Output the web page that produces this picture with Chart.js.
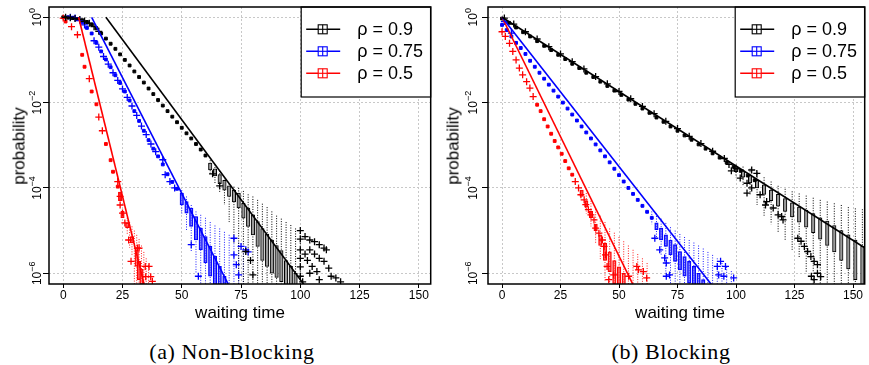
<!DOCTYPE html>
<html>
<head>
<meta charset="utf-8">
<script src="https://cdn.jsdelivr.net/npm/chart.js@4.4.1/dist/chart.umd.min.js"></script>
<style>
  body { margin: 0; background: #fff; }
  #wrap { position: relative; width: 869px; height: 365px; overflow: hidden; font-family: "Liberation Sans", Arial, sans-serif; }
  canvas { position: absolute; top: 0; }
  .lab { position: absolute; white-space: nowrap; line-height: 1; transform: translate(-50%, -50%); color: #000; }
  .ylab { transform: translate(-50%, -50%) rotate(-90deg); font-size: 17px; }
  .xlab { font-size: 17px; }
  .cap { font-family: "Liberation Serif", "Times New Roman", serif; font-size: 22px; letter-spacing: 0.6px; }
</style>
</head>
<body>
<div id="wrap">
  <canvas id="chartA" width="436" height="310" style="left:0"></canvas>
  <canvas id="chartB" width="434" height="310" style="left:436px"></canvas>
  <div class="lab ylab" style="left:19px; top:146px">probability</div>
  <div class="lab ylab" style="left:453px; top:146px">probability</div>
  <div class="lab xlab" style="left:240px; top:312px">waiting time</div>
  <div class="lab xlab" style="left:680px; top:312px">waiting time</div>
  <div class="lab cap" style="left:232px; top:352px">(a) Non-Blocking</div>
  <div class="lab cap" style="left:671px; top:352px">(b) Blocking</div>
</div>
<script>
// axes and legend
const xTicks = [0, 25, 50, 75, 100, 125, 150];
const yTicks = [1, 1e-2, 1e-4, 1e-6];
const yTickExp = ['0', '\u22122', '\u22124', '\u22126'];
const legendLabels = ['\u03c1 = 0.9', '\u03c1 = 0.75', '\u03c1 = 0.5'];
const seriesColors = ['#000000', '#0000ff', '#ff0000'];

// all values below are log10(probability)

// (a) Non-Blocking, rho = 0.9
const nbBlackLineX = [18, 102];
const nbBlackLineLog = [0, -6.3];
const nbBlackMedT = [0, 2, 4, 6, 8, 10, 12, 14, 16, 18, 20, 22, 24, 26, 28, 30, 32, 34, 36, 38, 40, 42, 44, 46, 48, 50, 52, 54, 56, 58, 60];
const nbBlackMedLog = [0, -0.01, -0.02, -0.04, -0.07, -0.11, -0.17, -0.26, -0.38, -0.5, -0.62, -0.74, -0.87, -1.0, -1.13, -1.27, -1.4, -1.53, -1.67, -1.8, -1.94, -2.07, -2.2, -2.33, -2.46, -2.59, -2.72, -2.84, -2.97, -3.1, -3.24];
const nbBlackBoxT = [62, 64, 66, 68, 70, 72, 74, 76, 78, 80, 82, 84, 86, 88, 90, 92, 94, 96, 98];
const nbBlackBoxHi = [-3.42, -3.55, -3.69, -3.82, -3.95, -4.05, -4.12, -4.36, -4.47, -4.63, -4.79, -4.95, -5.08, -5.22, -5.35, -5.47, -5.7, -5.84, -6.0];
const nbBlackBoxLo = [-3.58, -3.72, -3.9, -4.05, -4.2, -4.33, -4.47, -4.71, -4.9, -5.1, -5.37, -5.7, -5.84, -6.0, -6.1, -6.2, -6.5, -6.5, -6.5];
const nbBlackWhT = [62, 64, 66, 68, 70, 72, 74, 76, 78, 80, 82, 84, 86, 88, 90, 92, 94, 96, 98, 100];
const nbBlackWhHi = [-3.35, -3.45, -3.6, -3.75, -3.9, -3.97, -4.0, -4.07, -4.15, -4.2, -4.28, -4.37, -4.45, -4.55, -4.65, -4.72, -4.8, -4.87, -4.95, -5.0];
const nbBlackWhLo = [-3.7, -3.9, -4.1, -4.4, -4.8, -5.3, -6.5, -6.5, -6.5, -6.5, -6.5, -6.5, -6.5, -6.5, -6.5, -6.5, -6.5, -6.5, -6.5, -6.5];
const nbBlackOutX = [1, 3, 5, 7, 9, 11, 13, 15, 63, 66, 77, 79, 80, 100, 100, 100, 100, 100, 100, 102, 104, 106, 108, 110, 111, 104, 106, 108, 110, 112, 113, 115, 117, 102, 103, 105, 107, 108, 104, 101];
const nbBlackOutLog = [0, -0.01, -0.03, -0.05, -0.09, -0.14, -0.22, -0.33, -3.67, -3.95, -5.49, -5.7, -6.04, -5.0, -5.2, -5.45, -5.65, -5.85, -6.07, -5.14, -5.22, -5.26, -5.33, -5.41, -5.45, -5.45, -5.55, -5.65, -5.72, -5.88, -6.07, -6.11, -6.2, -5.55, -5.7, -5.84, -5.96, -6.15, -6.0, -6.2];

// (a) Non-Blocking, rho = 0.75
const nbBlueLineX = [12, 70];
const nbBlueLineLog = [0, -6.3];
const nbBlueMedT = [2, 4, 6, 8, 10, 12, 14, 16, 18, 20, 22, 24, 26, 28, 30, 32, 34, 36, 38, 40, 42, 44, 46, 48];
const nbBlueMedLog = [0, -0.01, -0.05, -0.12, -0.25, -0.38, -0.6, -0.8, -0.99, -1.17, -1.36, -1.54, -1.74, -1.95, -2.2, -2.43, -2.66, -2.88, -3.08, -3.26, -3.45, -3.68, -3.86, -4.02];
const nbBlueBoxT = [50, 52, 54, 56, 58, 60, 62, 64, 66, 68];
const nbBlueBoxHi = [-4.12, -4.32, -4.47, -4.67, -4.94, -5.14, -5.37, -5.6, -5.84, -6.07];
const nbBlueBoxLo = [-4.4, -4.59, -4.9, -5.22, -5.45, -5.76, -6.07, -6.27, -6.5, -6.5];
const nbBlueWhT = [50, 52, 54, 56, 58, 60, 62, 64, 66, 68, 70, 72, 74, 76];
const nbBlueWhHi = [-4.05, -4.2, -4.4, -4.55, -4.63, -4.7, -4.8, -4.88, -4.95, -5.03, -5.1, -5.18, -5.28, -5.36];
const nbBlueWhLo = [-4.6, -5.0, -5.5, -6.0, -6.5, -6.5, -6.5, -6.5, -6.5, -6.5, -6.5, -6.5, -6.5, -6.5];
const nbBlueOutX = [3, 5, 7, 9, 13, 15, 17, 19, 21, 23, 25, 27, 29, 31, 33, 35, 37, 39, 42, 43, 45, 47, 54, 57, 72, 72, 73, 74, 75, 77, 78];
const nbBlueOutLog = [0, -0.02, -0.07, -0.18, -0.55, -0.7, -0.92, -1.1, -1.3, -1.48, -1.68, -1.88, -2.08, -2.3, -2.55, -2.75, -2.97, -3.15, -3.34, -3.69, -3.85, -4.0, -5.33, -6.07, -5.18, -5.57, -5.8, -6.04, -5.37, -5.45, -5.5];

// (a) Non-Blocking, rho = 0.5
const nbRedLineX = [6.5, 34.5];
const nbRedLineLog = [0, -6.35];
const nbRedMedT = [1, 8, 9, 12, 14, 18, 20, 21, 23];
const nbRedMedLog = [-0.1, -0.88, -1.16, -1.74, -2.04, -2.97, -3.35, -3.62, -3.97];
const nbRedBoxT = [24, 25, 27, 29, 31, 32, 33];
const nbRedBoxHi = [-4.1, -4.55, -4.82, -5.14, -5.45, -5.72, -5.9];
const nbRedBoxLo = [-4.3, -4.7, -4.93, -5.29, -5.84, -6.15, -6.5];
const nbRedWhT = [27, 28, 29, 30, 31, 32, 33, 34, 35, 36];
const nbRedWhHi = [-4.7, -4.8, -4.9, -5.0, -5.1, -5.2, -5.35, -5.5, -5.65, -5.8];
const nbRedWhLo = [-5.1, -5.4, -5.6, -6.3, -6.5, -6.5, -6.5, -6.5, -6.5, -6.5];
const nbRedOutX = [0, 3.5, 6, 11, 15, 16.5, 23, 24, 24, 25, 26, 27.6, 28.6, 31.3, 32, 34.6, 36.2, 34.8, 36.9, 37.6];
const nbRedOutLog = [-0.02, -0.22, -0.41, -1.44, -2.34, -2.66, -3.85, -4.2, -4.4, -4.59, -4.82, -5.22, -5.72, -5.41, -5.41, -5.84, -5.84, -6.08, -6.08, -6.19];

// (b) Blocking, rho = 0.9
const blBlackLineX = [0, 156];
const blBlackLineLog = [0, -5.44];
const blBlackMedT = [0, 3, 6, 9, 12, 15, 18, 21, 24, 27, 30, 33, 36, 39, 42, 45, 48, 51, 54, 57, 60, 63, 66, 69, 72, 75, 78, 81, 84, 87, 90, 93, 96, 99, 102, 105, 108];
const blBlackMedLog = [-0.03, -0.13, -0.24, -0.35, -0.45, -0.56, -0.67, -0.77, -0.88, -0.98, -1.09, -1.19, -1.3, -1.4, -1.51, -1.61, -1.72, -1.82, -1.93, -2.03, -2.14, -2.24, -2.35, -2.45, -2.56, -2.66, -2.77, -2.87, -2.98, -3.08, -3.19, -3.29, -3.4, -3.5, -3.6, -3.71, -3.82];
const blBlackBoxT = [100, 103, 106, 109, 112, 115, 118, 121, 124, 127, 130, 133, 136, 139, 142, 145, 148, 151, 154];
const blBlackBoxHi = [-3.5, -3.6, -3.7, -3.82, -3.93, -4.05, -4.15, -4.25, -4.35, -4.45, -4.52, -4.6, -4.7, -4.78, -4.88, -5.0, -5.1, -5.22, -5.37];
const blBlackBoxLo = [-3.62, -3.75, -3.88, -4.0, -4.15, -4.3, -4.43, -4.55, -4.68, -4.8, -4.92, -5.05, -5.2, -5.35, -5.5, -5.7, -5.9, -6.15, -6.5];
const blBlackWhT = [100, 103, 106, 109, 112, 115, 118, 121, 124, 127, 130, 133, 136, 139, 142, 145, 148, 151, 154];
const blBlackWhHi = [-3.45, -3.5, -3.55, -3.62, -3.75, -3.85, -3.95, -4.02, -4.08, -4.13, -4.18, -4.23, -4.28, -4.32, -4.36, -4.4, -4.45, -4.48, -4.5];
const blBlackWhLo = [-3.75, -3.95, -4.15, -4.4, -4.65, -4.85, -5.05, -5.25, -5.45, -5.65, -6.0, -6.5, -6.5, -6.5, -6.5, -6.5, -6.5, -6.5, -6.5];
const blBlackOutX = [1, 5, 10, 15, 20, 25, 30, 35, 40, 45, 50, 55, 60, 65, 70, 75, 80, 85, 90, 95, 97, 98, 100, 101.8, 104.7, 104.7, 106.7, 106.7, 108.9, 110.3, 112.6, 113.1, 115.9, 118, 119.5, 120.1, 126.4, 127.8, 129.2, 130.6, 132, 132.2, 133.4, 133.4, 134.8, 134.8, 136.2];
const blBlackOutLog = [-0.02, -0.16, -0.34, -0.51, -0.69, -0.86, -1.04, -1.21, -1.39, -1.56, -1.74, -1.91, -2.09, -2.26, -2.44, -2.61, -2.79, -2.96, -3.14, -3.31, -3.45, -3.6, -3.55, -3.77, -3.89, -4.12, -3.58, -4.0, -3.66, -4.16, -4.4, -4.32, -4.47, -4.63, -4.67, -4.75, -5.18, -5.25, -5.37, -5.49, -5.61, -6.07, -5.72, -6.15, -5.8, -6.0, -6.08];

// (b) Blocking, rho = 0.75
const blBlueLineX = [0, 90];
const blBlueLineLog = [0, -6.3];
const blBlueMedT = [0, 2, 4, 6, 8, 10, 12, 14, 16, 18, 20, 22, 24, 26, 28, 30, 32, 34, 36, 38, 40, 42, 44, 46, 48, 50, 52, 54, 56, 58, 60, 62, 64];
const blBlueMedLog = [-0.18, -0.3, -0.45, -0.6, -0.72, -0.86, -1.02, -1.16, -1.3, -1.44, -1.58, -1.72, -1.86, -2.0, -2.14, -2.28, -2.42, -2.56, -2.7, -2.84, -2.98, -3.12, -3.26, -3.4, -3.55, -3.7, -3.85, -4.0, -4.14, -4.28, -4.42, -4.56, -4.7];
const blBlueBoxT = [66, 68, 70, 72, 74, 76, 78, 80, 82, 84, 86];
const blBlueBoxHi = [-4.82, -4.94, -5.1, -5.22, -5.33, -5.49, -5.61, -5.72, -5.84, -6.0, -6.15];
const blBlueBoxLo = [-4.98, -5.22, -5.37, -5.57, -5.72, -5.92, -6.07, -6.23, -6.5, -6.5, -6.5];
const blBlueWhT = [64, 66, 68, 70, 72, 74, 76, 78, 80, 82, 84, 86, 88, 90, 92, 94, 96, 98];
const blBlueWhHi = [-4.55, -4.6, -4.72, -4.82, -4.92, -5.0, -5.08, -5.15, -5.22, -5.28, -5.35, -5.42, -5.5, -5.57, -5.65, -5.76, -5.85, -5.95];
const blBlueWhLo = [-4.85, -5.2, -5.6, -6.0, -6.5, -6.5, -6.5, -6.5, -6.5, -6.5, -6.5, -6.5, -6.5, -6.5, -6.5, -6.5, -6.5, -6.5];
const blBlueOutX = [1, 4, 65.3, 67.4, 69.5, 70.2, 71.6, 70.2, 92, 93.4, 95.5, 94.8, 92.6, 99];
const blBlueOutLog = [-0.1, -0.37, -5.18, -5.45, -5.64, -5.76, -6.04, -6.07, -5.84, -5.72, -5.84, -6.07, -6.04, -6.11];

// (b) Blocking, rho = 0.5
const blRedLineX = [0, 56];
const blRedLineLog = [0, -6.27];
const blRedMedT = [15, 16.5, 18, 19.5, 21, 22.5, 24, 25.5, 27, 28.5, 30];
const blRedMedLog = [-2.05, -2.2, -2.39, -2.56, -2.73, -2.9, -3.05, -3.2, -3.37, -3.54, -3.69];
const blRedBoxT = [34, 36, 38, 40, 42, 44, 46, 48, 50, 52];
const blRedBoxHi = [-4.05, -4.3, -4.55, -4.85, -5.1, -5.3, -5.5, -5.7, -5.85, -6.0];
const blRedBoxLo = [-4.2, -4.45, -4.7, -5.0, -5.35, -5.7, -5.96, -6.25, -6.5, -6.5];
const blRedWhT = [36, 38, 40, 42, 44, 46, 48, 50, 52, 54, 56, 58, 60, 62];
const blRedWhHi = [-4.12, -4.3, -4.5, -4.65, -4.8, -4.95, -5.05, -5.15, -5.25, -5.35, -5.45, -5.55, -5.65, -5.76];
const blRedWhLo = [-4.6, -4.9, -5.3, -5.7, -6.2, -6.5, -6.5, -6.5, -6.5, -6.5, -6.5, -6.5, -6.5, -6.5];
const blRedOutX = [0, 1.4, 3.2, 4.6, 6, 7.4, 8.8, 10.5, 11.9, 13.3, 31.3, 32.7, 33.7, 35.1, 35.8, 36.9, 38, 39.3, 40, 41.4, 42.9, 43.6, 44.2, 44.9, 45.6, 47.7, 54.1, 57.6, 58.3, 60.4, 61.8];
const blRedOutLog = [-0.34, -0.45, -0.61, -0.8, -1.0, -1.19, -1.35, -1.51, -1.66, -1.86, -3.85, -4.0, -4.16, -4.28, -4.39, -4.51, -4.63, -4.75, -4.94, -5.06, -5.22, -5.37, -5.57, -5.84, -6.15, -6.04, -6.07, -5.84, -5.92, -5.96, -6.11];

const FONT = '"Liberation Sans", Arial, sans-serif';
const styles = [
    { line: '#000000', box: '#9a9a9a', wh: '#000000' },
    { line: '#0000ff', box: 'rgba(90,90,255,0.5)', wh: '#2020ff' },
    { line: '#ff0000', box: 'rgba(255,90,90,0.5)', wh: '#ff2020' }
];

const p10 = e => Math.pow(10, e);
const toPts = (xs, logs) => xs.map((x, i) => ({ x: x, y: p10(logs[i]) }));
const toBoxes = (ts, lo, hi) => ts.map((t, i) => ({ x: t, y: [p10(lo[i]), p10(hi[i])] }));
// whisker segments, broken by null points
const toWhiskers = (ts, lo, hi) => ts.flatMap((t, i) => [
    { x: t, y: p10(hi[i]) }, { x: t, y: p10(lo[i]) }, { x: t, y: null }
]);

const series = (lineX, lineLog, medT, medLog, boxT, boxLo, boxHi, whT, whLo, whHi, outX, outLog) =>
    ({ lineX, lineLog, medT, medLog, boxT, boxLo, boxHi, whT, whLo, whHi, outX, outLog });

const nbSeries = [
    series(nbBlackLineX, nbBlackLineLog, nbBlackMedT, nbBlackMedLog, nbBlackBoxT, nbBlackBoxLo, nbBlackBoxHi, nbBlackWhT, nbBlackWhLo, nbBlackWhHi, nbBlackOutX, nbBlackOutLog),
    series(nbBlueLineX, nbBlueLineLog, nbBlueMedT, nbBlueMedLog, nbBlueBoxT, nbBlueBoxLo, nbBlueBoxHi, nbBlueWhT, nbBlueWhLo, nbBlueWhHi, nbBlueOutX, nbBlueOutLog),
    series(nbRedLineX, nbRedLineLog, nbRedMedT, nbRedMedLog, nbRedBoxT, nbRedBoxLo, nbRedBoxHi, nbRedWhT, nbRedWhLo, nbRedWhHi, nbRedOutX, nbRedOutLog)
];
const blSeries = [
    series(blBlackLineX, blBlackLineLog, blBlackMedT, blBlackMedLog, blBlackBoxT, blBlackBoxLo, blBlackBoxHi, blBlackWhT, blBlackWhLo, blBlackWhHi, blBlackOutX, blBlackOutLog),
    series(blBlueLineX, blBlueLineLog, blBlueMedT, blBlueMedLog, blBlueBoxT, blBlueBoxLo, blBlueBoxHi, blBlueWhT, blBlueWhLo, blBlueWhHi, blBlueOutX, blBlueOutLog),
    series(blRedLineX, blRedLineLog, blRedMedT, blRedMedLog, blRedBoxT, blRedBoxLo, blRedBoxHi, blRedWhT, blRedWhLo, blRedWhHi, blRedOutX, blRedOutLog)
];

// first datasets are drawn on top
const buildDatasets = list => {
    const lines = [], outs = [], meds = [], boxes = [], whs = [];
    list.forEach((s, i) => {
        const st = styles[i];
        lines.push({ type: 'line', data: toPts(s.lineX, s.lineLog), borderColor: st.line, borderWidth: 1.6, pointRadius: 0, fill: false, clip: 0 });
        outs.push({ type: 'scatter', data: toPts(s.outX, s.outLog), pointStyle: 'cross', pointRadius: 3.5, borderColor: st.line, borderWidth: 1.3, clip: 0 });
        meds.push({ type: 'scatter', data: toPts(s.medT, s.medLog), pointStyle: 'rect', pointRadius: 2, backgroundColor: st.line, borderColor: st.line, borderWidth: 1, clip: 0 });
        boxes.push({ type: 'bar', data: toBoxes(s.boxT, s.boxLo, s.boxHi), backgroundColor: st.box, borderColor: st.line, borderWidth: 1, borderSkipped: false, barThickness: 3.5, grouped: false, clip: 0 });
        whs.push({ type: 'line', data: toWhiskers(s.whT, s.whLo, s.whHi), borderColor: st.wh, borderWidth: 1, borderDash: [1, 1.5], pointRadius: 0, spanGaps: false, fill: false, clip: 0 });
    });
    return [...lines, ...outs, ...meds, ...boxes, ...whs];
};

const line = (ctx, x1, y1, x2, y2) => { ctx.beginPath(); ctx.moveTo(x1, y1); ctx.lineTo(x2, y2); ctx.stroke(); };

// frame, rotated 10^k labels and legend box, R style
const decoPlugin = {
    id: 'deco',
    afterDraw(chart, args, opts) {
        const { ctx, chartArea: a, scales } = chart;
        ctx.save();

        const bw = 129.5, bh = 90, bx = a.right - bw, by = a.top;
        ctx.fillStyle = '#fff';
        ctx.fillRect(bx, by, bw, bh);
        ctx.strokeStyle = '#000';
        ctx.lineWidth = 1.2;
        ctx.strokeRect(bx, by, bw, bh);
        legendLabels.forEach((lab, i) => {
            const y = by + 22.3 + i * 22;
            const c = bx + 21.5;
            ctx.strokeStyle = seriesColors[i];
            ctx.lineWidth = 1.6;
            line(ctx, bx + 5, y, bx + 39, y);
            ctx.lineWidth = 1.1;
            ctx.fillStyle = '#fff';
            ctx.fillRect(c - 4.5, y - 4.5, 9, 9);
            ctx.strokeRect(c - 4.5, y - 4.5, 9, 9);
            line(ctx, c - 4.5, y, c + 4.5, y);
            line(ctx, c, y - 4.5, c, y + 4.5);
            ctx.fillStyle = '#000';
            ctx.font = '18px ' + FONT;
            ctx.textBaseline = 'middle';
            ctx.textAlign = 'left';
            ctx.fillText(lab, bx + 56, y + 1);
        });

        ctx.strokeStyle = '#000';
        ctx.lineWidth = 1.5;
        ctx.strokeRect(a.left, a.top, a.right - a.left, a.bottom - a.top);

        yTicks.forEach((v, i) => {
            const py = scales.y.getPixelForValue(v);
            ctx.save();
            ctx.translate(a.left - opts.labelGap, py);
            ctx.rotate(-Math.PI / 2);
            ctx.fillStyle = '#000';
            ctx.textBaseline = 'alphabetic';
            ctx.textAlign = 'left';
            ctx.font = '12px ' + FONT;
            const w1 = ctx.measureText('10').width;
            ctx.font = '9px ' + FONT;
            const w2 = ctx.measureText(yTickExp[i]).width;
            const x0 = -(w1 + w2) / 2;
            ctx.font = '12px ' + FONT;
            ctx.fillText('10', x0, 0);
            ctx.font = '9px ' + FONT;
            ctx.fillText(yTickExp[i], x0 + w1, -6);
            ctx.restore();
        });
        ctx.restore();
    }
};

const makeChart = (id, list, yWidth, labelGap, padRight) => {
    const grid = { color: '#c8c8c8', lineWidth: 1, tickColor: '#000', tickWidth: 1, tickBorderDash: [], offset: false };
    new Chart(document.getElementById(id), {
        type: 'scatter',
        data: { datasets: buildDatasets(list) },
        options: {
            responsive: false,
            devicePixelRatio: 1,
            animation: false,
            events: [],
            layout: { padding: { top: 7, right: padRight, left: 0, bottom: 0 } },
            plugins: { legend: { display: false }, tooltip: { enabled: false }, deco: { labelGap: labelGap } },
            scales: {
                x: {
                    type: 'linear', min: -6, max: 155, offset: false,
                    afterBuildTicks: s => { s.ticks = xTicks.map(v => ({ value: v })); },
                    afterFit: s => { s.height = 26; },
                    ticks: { color: '#000', font: { size: 12, family: FONT }, padding: 0, maxRotation: 0, autoSkip: false },
                    grid: Object.assign({ tickLength: 4 }, grid),
                    border: { display: false, dash: [2, 2] }
                },
                y: {
                    type: 'logarithmic', min: 5.6e-7, max: 1.74,
                    afterBuildTicks: s => { s.ticks = yTicks.map(v => ({ value: v })); },
                    afterFit: s => { s.width = yWidth; },
                    ticks: { display: false },
                    grid: Object.assign({ tickLength: 6 }, grid),
                    border: { display: false, dash: [2, 2] }
                }
            }
        },
        plugins: [decoPlugin]
    });
};

makeChart('chartA', nbSeries, 49, 8, 2);
makeChart('chartB', blSeries, 52, 11.5, 2);
</script>
</body>
</html>
